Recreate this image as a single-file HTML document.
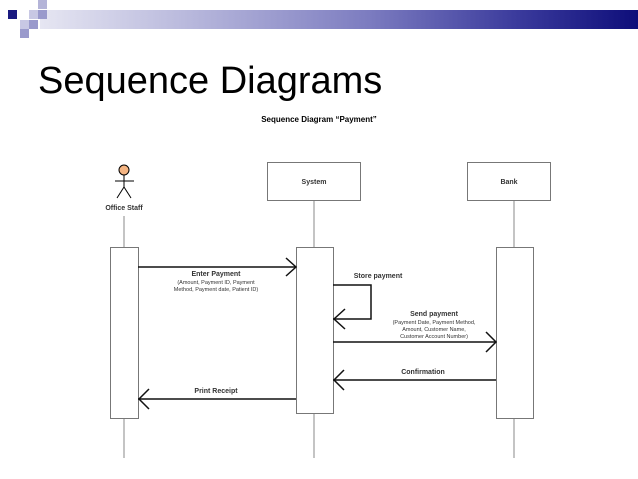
<!DOCTYPE html>
<html><head><style>
html,body{margin:0;padding:0;background:#fff;}
body{width:638px;height:479px;position:relative;overflow:hidden;font-family:"Liberation Sans",Arial,sans-serif;}
.sq{position:absolute;width:9px;height:9px;}
</style></head><body>
<div style="position:absolute;left:40px;top:10px;width:598px;height:19px;background:linear-gradient(to right,#e6e6f2 0%,#b8b8dc 25%,#7c7cc0 55%,#3a3a9c 80%,#0e0e7a 100%);"></div>
<div class="sq" style="left:8px;top:10px;background:#1a1a80;"></div>
<div class="sq" style="left:38px;top:0px;background:#b4b4d8;"></div>
<div class="sq" style="left:29px;top:10px;background:#c8c8e4;"></div>
<div class="sq" style="left:38px;top:10px;background:#9a9acc;"></div>
<div class="sq" style="left:20px;top:20px;background:#c8c8e4;"></div>
<div class="sq" style="left:29px;top:20px;background:#9a9acc;"></div>
<div class="sq" style="left:20px;top:29px;background:#9a9acc;"></div>
<div style="position:absolute;left:38px;top:60px;font-size:38px;color:#000;">Sequence Diagrams</div>
<svg width="638" height="479" style="position:absolute;left:0;top:0" font-family="Liberation Sans, Arial, sans-serif">
<text x="319" y="122" font-size="8" font-weight="bold" text-anchor="middle">Sequence Diagram “Payment”</text>
<!-- actor -->
<circle cx="124" cy="170" r="5" fill="#f4b482" stroke="#000" stroke-width="1"/>
<line x1="124" y1="175" x2="124" y2="187" stroke="#000"/>
<line x1="115" y1="181" x2="134" y2="181" stroke="#000"/>
<line x1="124" y1="187" x2="117" y2="198" stroke="#000"/>
<line x1="124" y1="187" x2="131" y2="198" stroke="#000"/>
<text x="124" y="210" font-size="7" font-weight="bold" text-anchor="middle" fill="#333">Office Staff</text>
<!-- lifelines -->
<g stroke="#888" stroke-width="1" fill="none">
<line x1="124" y1="216" x2="124" y2="458"/>
<line x1="314" y1="200" x2="314" y2="458"/>
<line x1="514" y1="200" x2="514" y2="458"/>
</g>
<g stroke="#777" stroke-width="1" fill="#fff">
<rect x="267.5" y="162.5" width="93" height="38"/>
<rect x="467.5" y="162.5" width="83" height="38"/>
<rect x="110.5" y="247.5" width="28" height="171"/>
<rect x="296.5" y="247.5" width="37" height="166"/>
<rect x="496.5" y="247.5" width="37" height="171"/>
</g>
<text x="314" y="184" font-size="7" font-weight="bold" text-anchor="middle" fill="#333">System</text>
<text x="509" y="184" font-size="7" font-weight="bold" text-anchor="middle" fill="#333">Bank</text>
<g stroke="#111" stroke-width="1.5" fill="none">
<line x1="138" y1="267" x2="296" y2="267"/><polyline points="286,258 296,267 286,276"/>
<polyline points="333,285 371,285 371,319 333,319"/><polyline points="345,309 334,319 345,329"/>
<line x1="333" y1="342" x2="496" y2="342"/><polyline points="486,332 496,342 486,352"/>
<line x1="496" y1="380" x2="333" y2="380"/><polyline points="344,370 334,380 344,390"/>
<line x1="296" y1="399" x2="138" y2="399"/><polyline points="149,389 139,399 149,409"/>
</g>
<g fill="#333" text-anchor="middle">
<text x="216" y="276" font-size="7" font-weight="bold">Enter Payment</text>
<text x="216" y="284" font-size="5.5">(Amount, Payment ID, Payment</text>
<text x="216" y="291" font-size="5.5">Method, Payment date, Patient ID)</text>
<text x="378" y="278" font-size="7" font-weight="bold">Store payment</text>
<text x="434" y="316" font-size="7" font-weight="bold">Send payment</text>
<text x="434" y="324" font-size="5.5">(Payment Date, Payment Method,</text>
<text x="434" y="331" font-size="5.5">Amount, Customer Name,</text>
<text x="434" y="338" font-size="5.5">Customer Account Number)</text>
<text x="423" y="374" font-size="7" font-weight="bold">Confirmation</text>
<text x="216" y="393" font-size="7" font-weight="bold">Print Receipt</text>
</g>
</svg>
</body></html>
